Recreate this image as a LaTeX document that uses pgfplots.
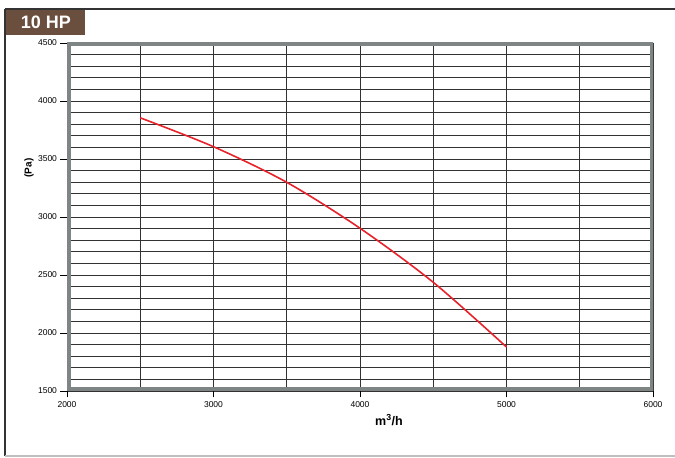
\documentclass[border=0pt]{standalone}
\usepackage{pgfplots}
\pgfplotsset{compat=1.18}
\usepackage{fontspec}
\setmainfont{Liberation Sans}

\definecolor{tabbrown}{RGB}{106,78,62}
\definecolor{bandgray}{RGB}{127,133,133}
\definecolor{curvered}{RGB}{232,34,43}
\definecolor{gridgray}{RGB}{50,50,50}

\begin{document}
\begin{tikzpicture}[x=1pt,y=1pt]
\useasboundingbox (0,0) rectangle (675,458);

% outer frame
\draw[black!80, line width=2pt] (5,449) -- (675,449);
\draw[black!80, line width=1.5pt] (5,449) -- (5,2);
\draw[black!25, line width=1.2pt] (5,2) -- (675,2);

% tab
\fill[tabbrown] (6,423) rectangle (85,448);
\node[text=white, font=\fontsize{18}{18}\selectfont\bfseries] at (46,435.5) {10 HP};

\begin{axis}[
    at={(67pt,67pt)}, anchor=south west,
    scale only axis,
    width=586pt, height=348pt,
    xmin=2000, xmax=6000,
    ymin=1500, ymax=4500,
    xtick={2000,3000,4000,5000,6000},
    ytick={1500,2000,2500,3000,3500,4000,4500},
    minor x tick num=1,
    minor y tick num=4,
    xmajorgrids, xminorgrids, ymajorgrids, yminorgrids,
    major grid style={gridgray, line width=0.9pt},
    minor grid style={gridgray, line width=0.9pt},
    minor tick length=0pt,
    major tick length=6.5pt,
    tick align=outside,
    xtick pos=left, ytick pos=left,
    tick style={black, line width=0.7pt},
    axis line style={draw=none},
    /pgf/number format/assume math mode=true,
    /pgf/number format/1000 sep={},
    ticklabel style={font=\fontsize{8.5}{8.5}\selectfont},
    xticklabel style={yshift=-1pt},
]
\addplot[curvered, line width=1.6pt, smooth] coordinates {
    (2500,3855)
    (3000,3606)
    (3500,3299)
    (4000,2903)
    (4500,2437)
    (5000,1879)
};
\draw[bandgray, line width=7pt] (rel axis cs:0,0) rectangle (rel axis cs:1,1);
\draw[black, line width=0.8pt] ([xshift=-3pt]rel axis cs:0,1) -- ([xshift=-3pt]rel axis cs:0,0);
\draw[black, line width=0.8pt] ([xshift=-3pt]rel axis cs:0,0) -- (rel axis cs:1,0);
\end{axis}

\node[rotate=90, font=\fontsize{10}{10}\selectfont\bfseries] at (29,290) {(Pa)};
\node[font=\fontsize{12.5}{12.5}\selectfont\bfseries] at (389,38) {m\textsuperscript{3}/h};
\end{tikzpicture}
\end{document}
